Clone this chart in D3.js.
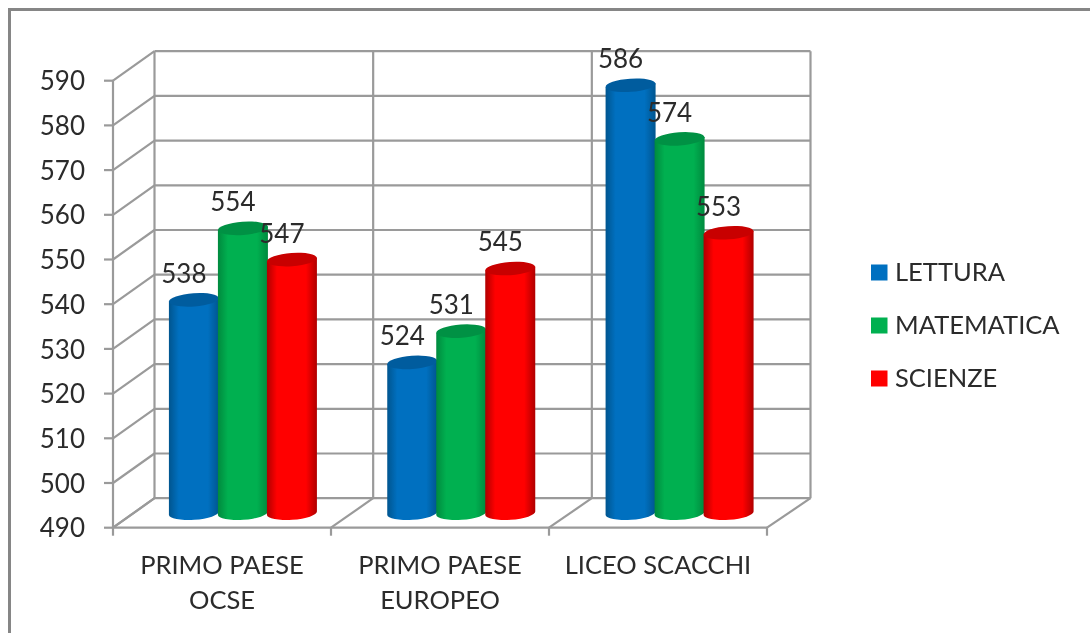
<!DOCTYPE html>
<html><head><meta charset="utf-8">
<style>html,body{margin:0;padding:0;background:#fff}svg{display:block;filter:blur(0.45px)}</style>
<script src="https://cdn.jsdelivr.net/npm/d3@7/dist/d3.min.js"></script>
</head><body><svg id="c" width="1090" height="633"></svg>
<script>
const categories = [["PRIMO PAESE","OCSE"],["PRIMO PAESE","EUROPEO"],["LICEO SCACCHI"]];
const seriesNames = ["LETTURA","MATEMATICA","SCIENZE"];
const lettura = [538,524,586];
const matematica = [554,531,574];
const scienze = [547,545,553];
const seriesValues = [lettura,matematica,scienze];
const yTicks = [490,500,510,520,530,540,550,560,570,580,590];
const colors = ["#0070C0","#00B050","#FF0000"];
const darks = ["#00558f","#008a3e","#b00000"];
const tops = ["#005c9e","#009144","#c80000"];

const FONT = "Lato, 'Noto Sans', sans-serif", TXT="#2b2b2b";
const GRID="#9a9a9a";
const svg = d3.select("#c");
const H=633;
svg.append("path").attr("d",`M9.5,${H} V9.5 H1090`).attr("fill","none").attr("stroke","#868686").attr("stroke-width",3);

const y = d3.scaleLinear().domain([490,590]).range([527.7,80.7]);
const xFront = d3.scaleBand().domain(d3.range(3)).range([113,767]);
const xBack = d3.scaleBand().domain(d3.range(3)).range([154.5,810.5]);
const xBar = d3.scaleBand().domain(d3.range(3)).range([133.75,788.75]);
const depthY = -29.5, barDepthY = -14.5;
const groupW = 147;
const x1 = d3.scaleBand().domain(d3.range(3)).range([0,groupW]);

const defs = svg.append("defs");
colors.forEach((c,i)=>{
  const g=defs.append("linearGradient").attr("id","g"+i);
  [[0,darks[i]],[0.2,c],[0.5,c],[0.78,c],[1,darks[i]]].forEach(s=>g.append("stop").attr("offset",s[0]).attr("stop-color",s[1]));
});

// grid
const grid = svg.append("g").attr("stroke",GRID).attr("stroke-width",2.2).attr("fill","none");
const backL = xBack.range()[0], backR = xBack.range()[1], frontL = xFront.range()[0], frontR = xFront.range()[1];
yTicks.forEach(t=>{
  grid.append("line").attr("x1",backL).attr("x2",backR).attr("y1",y(t)+depthY).attr("y2",y(t)+depthY);
  grid.append("line").attr("x1",frontL).attr("x2",backL).attr("y1",y(t)).attr("y2",y(t)+depthY);
  grid.append("line").attr("x1",frontL-9).attr("x2",frontL).attr("y1",y(t)).attr("y2",y(t));
});
[0,1,2,3].forEach(i=>{
  const f = i<3 ? xFront(i) : frontR, b = i<3 ? xBack(i) : backR;
  grid.append("line").attr("x1",b).attr("x2",b).attr("y1",y(590)+depthY).attr("y2",y(490)+depthY);
  grid.append("line").attr("x1",f).attr("x2",b).attr("y1",y(490)).attr("y2",y(490)+depthY);
  grid.append("line").attr("x1",f).attr("x2",f).attr("y1",y(490)).attr("y2",y(490)+8);
});
grid.append("line").attr("x1",frontL).attr("x2",frontL).attr("y1",y(590)).attr("y2",y(490));
grid.append("line").attr("x1",frontL).attr("x2",frontR).attr("y1",y(490)).attr("y2",y(490));

// y labels
const axis = svg.append("g").attr("transform","translate(85,0)").call(d3.axisLeft(y).tickValues(yTicks).tickSize(0).tickPadding(0));
axis.select(".domain").remove();
axis.selectAll("text").attr("font-family",FONT).attr("font-size",26).attr("fill",TXT).attr("x",0).attr("dy","0.35em");

// bars
const rx=25, ry=6.6, tilt=-4;
const marks = svg.append("g");
categories.forEach((cat,ci)=>{
  seriesValues.forEach((vals,si)=>{
    const left = xBar(ci)+(xBar.bandwidth()-groupW)/2+x1(si);
    const cx = left+x1.bandwidth()/2;
    const yt = y(vals[ci])+barDepthY+1.2, yb = y(490)+barDepthY;
    const l = cx-rx, r = cx+rx;
    const s = rx*Math.sin(-tilt*Math.PI/180);
    marks.append("path")
      .attr("d",`M${l},${yt+s} L${l},${yb+s} A${rx},${ry} ${tilt} 0 0 ${r},${yb-s} L${r},${yt-s} Z`)
      .attr("fill",`url(#g${si})`);
    marks.append("ellipse").attr("cx",0).attr("cy",0).attr("rx",rx).attr("ry",ry)
      .attr("transform",`translate(${cx},${yt}) rotate(${tilt})`).attr("fill",tops[si]);
  });
});
// labels above everything
categories.forEach((cat,ci)=>{
  seriesValues.forEach((vals,si)=>{
    const left = xBar(ci)+(xBar.bandwidth()-groupW)/2+x1(si);
    svg.append("text").attr("x",left+x1.bandwidth()/2-10).attr("y",y(vals[ci])+barDepthY-25).attr("dy","0.35em")
      .attr("text-anchor","middle").attr("font-family",FONT).attr("font-size",26).attr("fill",TXT).text(vals[ci]);
  });
  const t = svg.append("text").attr("text-anchor","middle").attr("font-family",FONT).attr("font-size",25.5).attr("fill",TXT);
  cat.forEach((ln,li)=>t.append("tspan").attr("x",xFront(ci)+xFront.bandwidth()/2).attr("y",565+li*35).attr("dy","0.35em").text(ln));
});

// legend
const ly = d3.scalePoint().domain(seriesNames).range([272.5,378.5]);
seriesNames.forEach((n,i)=>{
  svg.append("rect").attr("x",871).attr("y",ly(n)-8).attr("width",16.5).attr("height",16).attr("fill",colors[i]);
  svg.append("text").attr("x",895).attr("y",ly(n)).attr("dy","0.35em").attr("font-family",FONT).attr("font-size",25.5).attr("fill",TXT).text(n);
});
</script></body></html>
